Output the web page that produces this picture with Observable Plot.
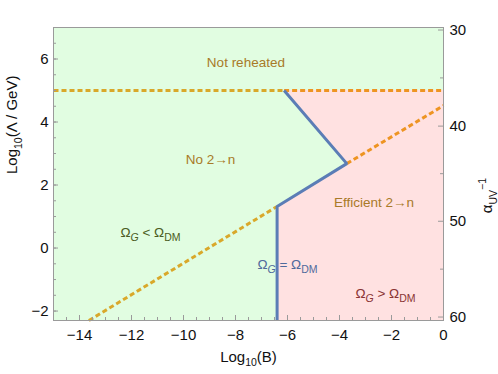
<!DOCTYPE html>
<html>
<head>
<meta charset="utf-8">
<script src="https://cdn.jsdelivr.net/npm/d3@7"></script>
<script src="https://cdn.jsdelivr.net/npm/@observablehq/plot@0.6"></script>
<style>
  html, body { margin: 0; padding: 0; background: white; }
  #chart { width: 498px; height: 374px; }
</style>
</head>
<body>
<div id="chart"></div>
<script>
// ---- axis domains and ticks ----
const xDomain = [-15, 0];
const yDomain = [-2.3, 7];
const xTicks = [-14, -12, -10, -8, -6, -4, -2, 0];
const yTicks = [-2, 0, 2, 4, 6];
// right axis (alpha_UV^-1) tick labels and their Log10(Λ/GeV) positions
const alphaTicks = [30, 40, 50, 60];
const alphaTickPos = [6.92, 3.87, 0.85, -2.19];
const alphaMinorPos = [5.40, 2.36, -0.67];

// ---- boundaries ----
// Ω_G = Ω_DM curve (solid blue)
const eqX = [-6.4, -6.4, -3.72, -6.13];
const eqY = [-2.3, 1.32, 2.68, 5.0];
// reheating line Log10(Λ)=5 (dashed), split at blue curve
const reheatGoldX = [-15, -6.13];
const reheatOrangeX = [-6.13, 0];
const reheatY = [5, 5];
// 2→n efficiency line (dashed)
const effGoldX = [-13.64, -6.4];
const effGoldY = [-2.3, 1.32];
const effOrangeX = [-3.72, 0];
const effOrangeY = [2.68, 4.52];

// ---- annotations ----
const labels = ["Not reheated", "No 2→n", "Ω_{*G} < Ω_{DM}", "Efficient 2→n", "Ω_{*G} = Ω_{DM}", "Ω_{*G} > Ω_{DM}"];
const labelX = [-7.6, -8.96, -11.27, -2.67, -6.0, -2.23];
const labelY = [5.88, 2.79, 0.49, 1.44, -0.52, -1.44];
const labelColor = ["#a87a28", "#a87a28", "#4b5c22", "#a87a28", "#4f6a9c", "#8a3434"];

const xLabel = "Log_{10}(B)";
const yLabel = "Log_{10}(Λ / GeV)";
const y2Label = "α_{UV}^{−1}";

// ---- build tables ----
const eqLine = eqX.map((x, i) => ({x, y: eqY[i]}));
const pinkEdge = eqX.map((x, i) => ({x, y: eqY[i]}));
const goldLines = [
  ...reheatGoldX.map((x, i) => ({x, y: reheatY[i], s: "a"})),
  ...effGoldX.map((x, i) => ({x, y: effGoldY[i], s: "b"}))
];
const orangeLines = [
  ...reheatOrangeX.map((x, i) => ({x, y: reheatY[i], s: "a"})),
  ...effOrangeX.map((x, i) => ({x, y: effOrangeY[i], s: "b"}))
];
const annotations = labels.map((t, i) => ({t, x: labelX[i], y: labelY[i], c: labelColor[i]}));
const alphaMap = new Map(alphaTickPos.map((p, i) => [p, alphaTicks[i]]));

const W = 498, H = 374, mL = 53, mR = 55, mT = 27, mB = 54;
const innerW = W - mL - mR, innerH = H - mT - mB;
const fmt = d => d < 0 ? "\u2212" + Math.abs(d) : String(d);
const gray = "#9a9a9a";

const chart = Plot.plot({
  width: W, height: H,
  marginLeft: mL, marginRight: mR, marginTop: mT, marginBottom: mB,
  x: {domain: xDomain},
  y: {domain: yDomain},
  style: {fontFamily: "'Liberation Sans', Arial, sans-serif", fontSize: "15px", background: "white", color: "#111"},
  marks: [
    Plot.frame({fill: "#e1fde1", stroke: null}),
    Plot.areaX(pinkEdge, {y: "y", x1: "x", x2: () => xDomain[1], fill: "#ffe1e1"}),
    Plot.line(goldLines, {x: "x", y: "y", z: "s", stroke: "#d9a82a", strokeWidth: 3, strokeDasharray: "5 3", strokeLinecap: "butt"}),
    Plot.line(orangeLines, {x: "x", y: "y", z: "s", stroke: "#ee9422", strokeWidth: 3, strokeDasharray: "5 3", strokeLinecap: "butt"}),
    Plot.line(eqLine, {x: "x", y: "y", stroke: "#5b7db6", strokeWidth: 3, strokeLinejoin: "miter", strokeLinecap: "butt"}),
    Plot.text(annotations, {x: "x", y: "y", text: "t", fill: "c", fontSize: 13.5}),
    Plot.frame({stroke: gray, strokeWidth: 1}),
    // ticks (inside)
    Plot.tickX(d3.range(-14.5, 0, 0.5), {x: d => d, insetTop: innerH - 3, stroke: gray}),
    Plot.tickX(xTicks, {x: d => d, insetTop: innerH - 5, stroke: gray}),
    Plot.tickY(d3.range(-2, 7, 0.5), {y: d => d, insetRight: innerW - 3, stroke: gray}),
    Plot.tickY(yTicks, {y: d => d, insetRight: innerW - 5, stroke: gray}),
    Plot.tickY(alphaMinorPos, {y: d => d, insetLeft: innerW - 3, stroke: gray}),
    Plot.tickY(alphaTickPos, {y: d => d, insetLeft: innerW - 5, stroke: gray}),
    // axes labels
    Plot.axisX({ticks: xTicks, tickSize: 0, tickPadding: 9, tickFormat: fmt, label: null, fontSize: 15}),
    Plot.axisY({ticks: yTicks, anchor: "left", tickSize: 0, tickPadding: 5, tickFormat: fmt, label: null, fontSize: 15}),
    Plot.axisY(alphaTickPos, {anchor: "right", tickSize: 0, tickPadding: 6, tickFormat: d => String(alphaMap.get(d)), label: null, fontSize: 15}),
    Plot.text([xLabel], {frameAnchor: "bottom", dy: 41, fontSize: 15, fill: "#111"}),
    Plot.text([yLabel], {frameAnchor: "left", dx: -41, rotate: -90, fontSize: 15, fill: "#111"}),
    Plot.text([y2Label], {frameAnchor: "right", dx: 44, dy: 4, rotate: -90, fontSize: 15, fill: "#111"})
  ]
});

// Rich text: _{sub}, ^{sup}, leading * => italic
function richify(el) {
  const src = el.textContent;
  if (!/[_^]\{/.test(src)) return;
  let f = parseFloat(el.getAttribute("font-size")) || parseFloat(getComputedStyle(el).fontSize) || 15;
  const parts = [];
  const re = /([_^])\{([^}]*)\}/g;
  let last = 0, m;
  while ((m = re.exec(src))) {
    if (m.index > last) parts.push({t: src.slice(last, m.index), k: "n"});
    parts.push({t: m[2], k: m[1] === "_" ? "sub" : "sup"});
    last = re.lastIndex;
  }
  if (last < src.length) parts.push({t: src.slice(last), k: "n"});
  while (el.firstChild) el.removeChild(el.firstChild);
  let cur = 0;
  for (const p of parts) {
    const ts = document.createElementNS("http://www.w3.org/2000/svg", "tspan");
    let txt = p.t, italic = false;
    if (txt.startsWith("*")) { italic = true; txt = txt.slice(1); }
    const target = p.k === "sub" ? 0.28 * f : p.k === "sup" ? -0.45 * f : 0;
    if (target !== cur) ts.setAttribute("dy", (target - cur).toFixed(2));
    cur = target;
    if (p.k !== "n") ts.setAttribute("font-size", (0.7 * f).toFixed(2));
    if (italic) ts.setAttribute("font-style", "italic");
    ts.textContent = txt;
    el.appendChild(ts);
  }
}
chart.querySelectorAll("text").forEach(richify);

document.getElementById("chart").appendChild(chart);
</script>
</body>
</html>
